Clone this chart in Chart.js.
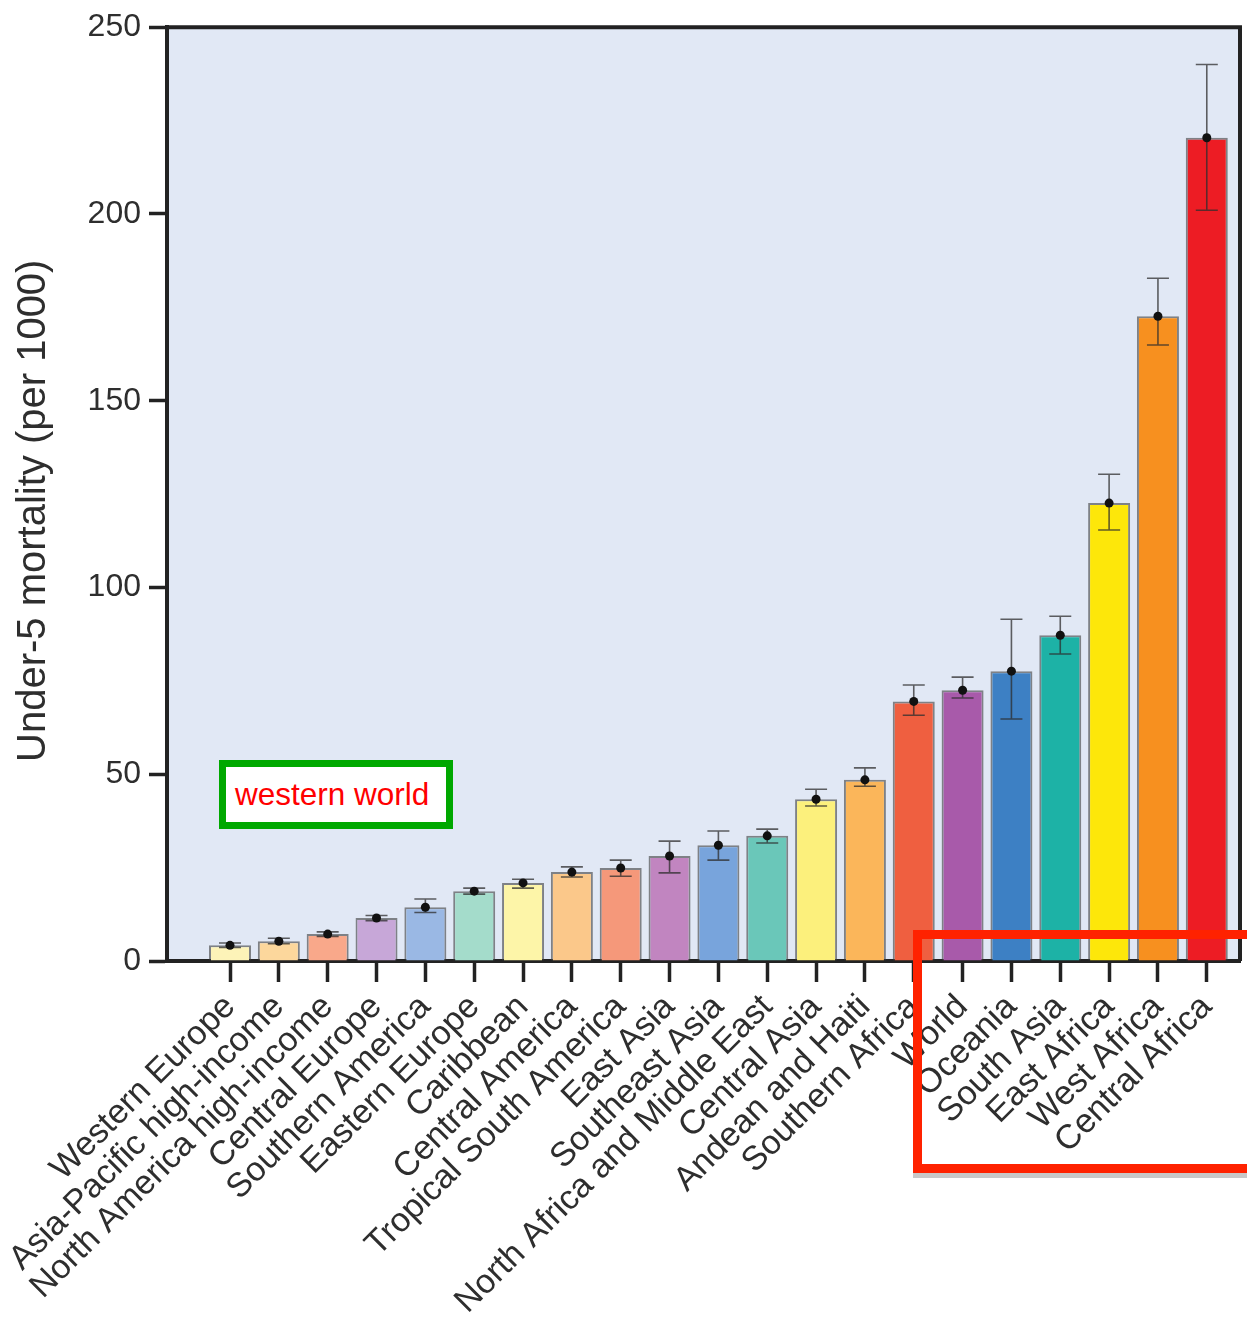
<!DOCTYPE html>
<html>
<head>
<meta charset="utf-8">
<script src="https://cdn.jsdelivr.net/npm/chart.js@4/dist/chart.umd.min.js"></script>
<style>
  html, body { margin: 0; padding: 0; background: #ffffff; overflow: hidden; }
  #wrap { position: relative; width: 1247px; height: 1323px; overflow: hidden; }
  #c { position: absolute; left: 0; top: 0; }
  .green-box {
    position: absolute; left: 219px; top: 760px; width: 234px; height: 69px;
    box-sizing: border-box; border: 7px solid #00a800; background: #ffffff;
    display: flex; align-items: center; padding-left: 9px;
    font-family: "Liberation Sans", Arial, sans-serif; font-size: 31.5px; color: #ff0000;
  }
  .red-box {
    position: absolute; left: 913px; top: 930px; width: 345px; height: 243px;
    box-sizing: border-box; border: 9px solid #ff2200; background: transparent;
    box-shadow: 0 5px 0 #c8c8c8;
  }
</style>
</head>
<body>
<div id="wrap">
  <canvas id="c" width="1247" height="1323"></canvas>
  <div class="green-box">western world</div>
  <div class="red-box"></div>
</div>
<script>
const categories = [
  "Western Europe", "Asia-Pacific high-income", "North America high-income",
  "Central Europe", "Southern America", "Eastern Europe", "Caribbean",
  "Central America", "Tropical South America", "East Asia", "Southeast Asia",
  "North Africa and Middle East", "Central Asia", "Andean and Haiti",
  "Southern Africa", "World", "Oceania", "South Asia", "East Africa",
  "West Africa", "Central Africa"
];
const values = [4.2, 5.3, 7.2, 11.5, 14.4, 18.7, 20.9, 23.8, 24.9, 28.1, 31.0, 33.5,
                 43.3, 48.5, 69.5, 72.5, 77.6, 87.2, 122.6, 172.6, 220.4];
const errLow = [3.6, 4.6, 6.6, 10.8, 13.0, 17.9, 19.5, 22.5, 22.7, 23.6, 27.0, 31.6,
                41.5, 46.8, 65.8, 70.4, 64.8, 82.2, 115.4, 164.9, 201.0];
const errHigh = [4.8, 6.1, 7.8, 12.2, 16.6, 19.5, 21.9, 25.2, 27.0, 32.1, 34.8, 35.3,
                 46.0, 51.7, 73.9, 76.0, 91.5, 92.3, 130.3, 182.8, 240.0];
const barColors = [
  "#fdf3b8", "#fcd79c", "#f9a88a", "#c7a7d8", "#9ab8e4", "#a4dccb", "#fdf5a8",
  "#fbc88a", "#f5987a", "#c185c0", "#78a4dc", "#6ac7b9", "#fcf07c", "#fbb65a",
  "#ef5f40", "#a85aaa", "#3d80c4", "#1db2a6", "#fde70a", "#f7901f", "#ed1c24"
];
const yTickValues = [0, 50, 100, 150, 200, 250];
const yTitle = "Under-5 mortality (per 1000)";

const FONT = "'Liberation Sans', Arial, Helvetica, sans-serif";

const bgPlugin = {
  id: 'plotBg',
  beforeDraw(chart) {
    const a = chart.chartArea, ctx = chart.ctx;
    ctx.save();
    ctx.fillStyle = '#e1e8f5';
    ctx.fillRect(a.left, a.top, a.right - a.left, a.bottom - a.top);
    ctx.restore();
  },
  afterDraw(chart) {
    const a = chart.chartArea, ctx = chart.ctx;
    ctx.save();
    ctx.strokeStyle = '#222';
    ctx.lineWidth = 4;
    ctx.beginPath();
    ctx.moveTo(a.left, a.top);
    ctx.lineTo(a.right, a.top);
    ctx.lineTo(a.right, a.bottom);
    ctx.stroke();
    ctx.restore();
  }
};

const errPlugin = {
  id: 'errBars',
  afterDatasetsDraw(chart) {
    const xs = chart.scales.x, ys = chart.scales.y, ctx = chart.ctx;
    ctx.save();
    categories.forEach((c, i) => {
      const x = xs.getPixelForValue(i);
      const yl = ys.getPixelForValue(errLow[i]);
      const yh = ys.getPixelForValue(errHigh[i]);
      const yv = ys.getPixelForValue(values[i]);
      ctx.strokeStyle = 'rgba(45,45,45,0.75)';
      ctx.lineWidth = 1.6;
      ctx.beginPath();
      ctx.moveTo(x, yl); ctx.lineTo(x, yh);
      ctx.moveTo(x - 11, yh); ctx.lineTo(x + 11, yh);
      ctx.moveTo(x - 11, yl); ctx.lineTo(x + 11, yl);
      ctx.stroke();
      ctx.fillStyle = '#111';
      ctx.beginPath();
      ctx.arc(x, yv, 4.5, 0, Math.PI * 2);
      ctx.fill();
    });
    ctx.restore();
  }
};

new Chart(document.getElementById('c'), {
  type: 'bar',
  data: {
    datasets: [{
      data: categories.map((c, i) => ({ x: i, y: values[i] })),
      backgroundColor: barColors,
      borderColor: 'rgba(60,60,60,0.6)',
      borderWidth: 2,
      barPercentage: 0.86,
      categoryPercentage: 1.0
    }]
  },
  options: {
    responsive: false,
    devicePixelRatio: 1,
    animation: false,
    layout: { padding: { left: 0, top: 27, right: 7, bottom: 0 } },
    plugins: { legend: { display: false }, tooltip: { enabled: false } },
    scales: {
      x: {
        type: 'linear',
        min: -1.29,
        max: 20.68,
        offset: false,
        afterBuildTicks: s => { s.ticks = categories.map((c, i) => ({ value: i })); },
        afterFit: s => { s.height = 1323 - 961; },
        grid: { display: true, drawOnChartArea: false, drawTicks: true, tickLength: 21, tickWidth: 3.5, tickColor: '#222', offset: false },
        border: { display: true, color: '#222', width: 4 },
        ticks: {
          autoSkip: false, maxRotation: 45, minRotation: 45, padding: 5,
          color: '#2e2e2e', font: { family: FONT, size: 34 },
          callback: v => categories[v]
        }
      },
      y: {
        min: 0, max: 250,
        afterBuildTicks: s => { s.ticks = yTickValues.map(v => ({ value: v })); },
        afterFit: s => { s.width = 167; },
        grid: { display: true, drawOnChartArea: false, drawTicks: true, tickLength: 18, tickWidth: 3.5, tickColor: '#222' },
        border: { display: true, color: '#222', width: 4 },
        ticks: { padding: 8, color: '#2e2e2e', font: { family: FONT, size: 32 } },
        title: {
          display: true, text: yTitle + '   ', color: '#2e2e2e',
          font: { family: FONT, size: 40 }, padding: { top: 10, bottom: 0 }
        }
      }
    }
  },
  plugins: [bgPlugin, errPlugin]
});
</script>
</body>
</html>
